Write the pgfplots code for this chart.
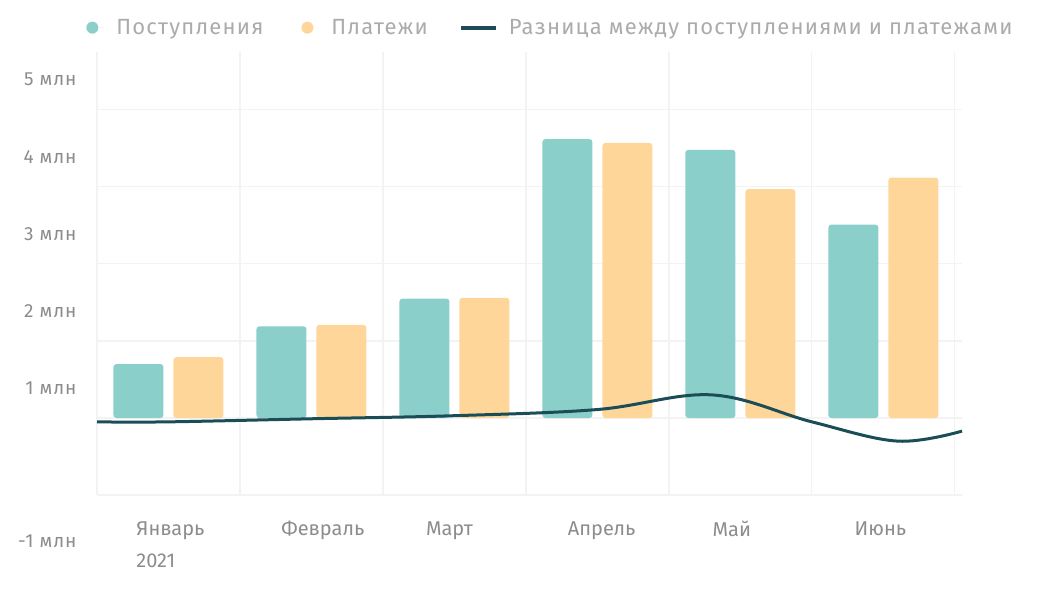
\documentclass[border=0pt]{standalone}
\usepackage{fontspec}
\setmainfont{Fira Sans}
\newfontfamily\legfont[LetterSpace=5.5]{Fira Sans}
\newfontfamily\tickfont[LetterSpace=5]{Fira Sans}
\usepackage{pgfplots}
\pgfplotsset{compat=1.18}
\definecolor{cteal}{HTML}{8BCFCB}
\definecolor{corange}{HTML}{FFD699}
\definecolor{cline}{HTML}{1B4D57}
\definecolor{ctext}{HTML}{8C8C8C}
\definecolor{clegend}{HTML}{ABABAB}
\definecolor{cgrid}{HTML}{F3F3F3}
\begin{document}
\begin{tikzpicture}
\path[use as bounding box] (0,0) rectangle (1037pt,599pt);
\begin{axis}[
  at={(97pt,50pt)}, anchor=south west,
  scale only axis,
  width=865pt, height=497pt,
  xmin=-0.5, xmax=5.55,
  ymin=-1.7, ymax=4.75,
  axis line style={draw=none},
  tick style={draw=none},
  xtick={0.014,1.08,1.965,3.03,3.94,4.98},
  xticklabels={{Январь\\2021},Февраль,Март,Апрель,Май,Июнь},
  xticklabel style={align=left, anchor=north, yshift=31pt, font=\fontsize{20}{32}\selectfont, text=ctext},
  ytick={-1.60,0.39,1.39,2.39,3.38,4.39},
  yticklabels={-1 млн,1 млн,2 млн,3 млн,4 млн,5 млн},
  yticklabel style={anchor=east, xshift=-17pt, font=\tickfont\fontsize{19}{22}\selectfont, text=ctext},
  extra y ticks={-1,0,1,2,3,4},
  extra y tick labels={},
  extra y tick style={grid=major, major grid style={draw=cgrid, line width=1.2pt}},
  clip=false,
  legend columns=3,
  legend style={draw=none, fill=none, at={(axis description cs:-0.016,1.049)}, anchor=west,
    font=\legfont\fontsize{22}{26}\selectfont, text=clegend,
    /tikz/every odd column/.append style={column sep=10pt},
    /tikz/every even column/.append style={column sep=36pt}},
]
% vertical grid lines
\addplot[cgrid, line width=1.2pt, forget plot] coordinates {(-0.5,-1) (-0.5,4.75)};
\addplot[cgrid, line width=1.2pt, forget plot] coordinates {(0.5,-1) (0.5,4.75)};
\addplot[cgrid, line width=1.2pt, forget plot] coordinates {(1.5,-1) (1.5,4.75)};
\addplot[cgrid, line width=1.2pt, forget plot] coordinates {(2.5,-1) (2.5,4.75)};
\addplot[cgrid, line width=1.2pt, forget plot] coordinates {(3.5,-1) (3.5,4.75)};
\addplot[cgrid, line width=1.2pt, forget plot] coordinates {(4.5,-1) (4.5,4.75)};
\addplot[cgrid, line width=1.2pt, forget plot] coordinates {(5.5,-1) (5.5,4.75)};
% bars
\addplot[ybar, bar width=50pt, bar shift=-30pt, fill=cteal, draw=none, rounded corners=3pt,
  legend image code/.code={\fill[cteal] (5pt,0pt) circle (6pt); \path (0pt,0pt) -- (17pt,0pt);}]
  coordinates {(0,0.70) (1,1.19) (2,1.55) (3,3.62) (4,3.48) (5,2.51)};
\addlegendentry{Поступления}
\addplot[ybar, bar width=50pt, bar shift=30pt, fill=corange, draw=none, rounded corners=3pt,
  legend image code/.code={\fill[corange] (5pt,0pt) circle (6pt); \path (0pt,0pt) -- (17pt,0pt);}]
  coordinates {(0,0.79) (1,1.21) (2,1.56) (3,3.57) (4,2.97) (5,3.12)};
\addlegendentry{Платежи}
\addplot[cline, line width=3pt, smooth, tension=0.6,
  legend image code/.code={\draw[cline, line width=4pt, overlay] (-6pt,0pt) -- (29pt,0pt); \path (0pt,0pt) -- (28pt,0pt);}]
  coordinates {(-0.5,-0.05) (0,-0.05) (1,-0.01) (2,0.03) (3,0.11) (3.8,0.30) (4.5,-0.05) (5.1,-0.30) (5.55,-0.17)};
\addlegendentry{Разница между поступлениями и платежами}
\end{axis}
\end{tikzpicture}
\end{document}
